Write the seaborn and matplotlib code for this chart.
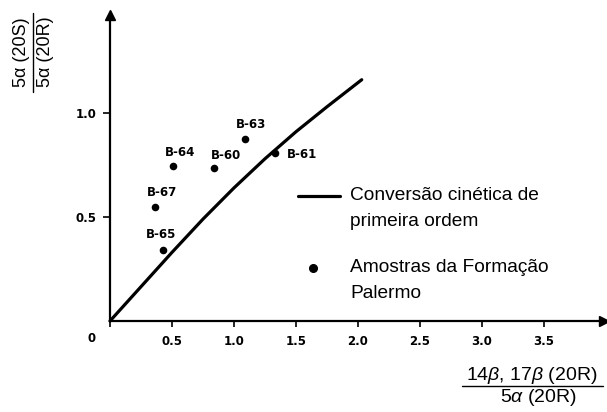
import matplotlib
matplotlib.use("Agg")
import matplotlib.pyplot as plt
from matplotlib.lines import Line2D
import seaborn as sns
import pandas as pd

# ---- data ----
curve_x = [0.0, 0.25, 0.5, 0.75, 1.0, 1.25, 1.5, 1.75, 2.03]
curve_y = [0.0, 0.165, 0.33, 0.49, 0.64, 0.78, 0.91, 1.03, 1.16]

sample_names = ["B-63", "B-61", "B-64", "B-60", "B-67", "B-65"]
sample_x = [1.09, 1.33, 0.51, 0.84, 0.36, 0.43]
sample_y = [0.875, 0.81, 0.745, 0.735, 0.55, 0.34]

x_ticks = [0.5, 1.0, 1.5, 2.0, 2.5, 3.0, 3.5]
x_ticklabels = ["0.5", "1.0", "1.5", "2.0", "2.5", "3.0", "3.5"]
y_ticks = [0.5, 1.0]
y_ticklabels = ["0.5", "1.0"]

legend_line_label = ["Conversão cinética de", "primeira ordem"]
legend_point_label = ["Amostras da Formação", "Palermo"]

# label offsets in pixels (dx, dy) relative to each point (label centre)
label_offsets = {
    "B-63": (6, 15), "B-61": (27, -2), "B-64": (7, 14),
    "B-60": (12, 13), "B-67": (7, 14), "B-65": (-2, 16),
}

sns.set_theme(style="white")
plt.rcParams["font.family"] = ["Liberation Sans", "DejaVu Sans"]
plt.rcParams["mathtext.fontset"] = "custom"
plt.rcParams["mathtext.rm"] = "Liberation Sans"
plt.rcParams["mathtext.it"] = "Liberation Sans:italic"
plt.rcParams["text.color"] = "black"

W, H = 607, 412
fig = plt.figure(figsize=(W / 100, H / 100), dpi=100)
fig.patch.set_facecolor("white")

PX_X, PX_Y = 124.0, 208.0
ax = fig.add_axes([110 / W, 91 / H, 494 / W, 306 / H])
ax.set_xlim(0, 494 / PX_X)
ax.set_ylim(0, 306 / PX_Y)
ax.set_facecolor("white")

curve_df = pd.DataFrame({"x": curve_x, "y": curve_y})
samples_df = pd.DataFrame({"x": sample_x, "y": sample_y, "name": sample_names})

sns.lineplot(data=curve_df, x="x", y="y", sort=False, color="black",
             linewidth=2.3, ax=ax, clip_on=False)
sns.scatterplot(data=samples_df, x="x", y="y", color="black", s=30,
                edgecolor="black", linewidth=0, ax=ax, zorder=5)

for name, xv, yv in zip(sample_names, sample_x, sample_y):
    dx, dy = label_offsets[name]
    ax.annotate(name, (xv, yv), xytext=(dx, dy), textcoords="offset pixels",
                ha="center", va="center", fontsize=8.5, family="DejaVu Sans",
                fontweight="bold", color="black")

# axes styling
for s in ["top", "right"]:
    ax.spines[s].set_visible(False)
for s in ["left", "bottom"]:
    ax.spines[s].set_color("black")
    ax.spines[s].set_linewidth(1.6)
ax.plot(1, 0, ">", color="black", ms=7, transform=ax.get_yaxis_transform(),
        clip_on=False)
ax.plot(0, 1, "^", color="black", ms=7, transform=ax.get_xaxis_transform(),
        clip_on=False)

ax.set_xticks([0.0] + x_ticks)
ax.set_xticklabels([""] + x_ticklabels)
ax.set_yticks(y_ticks)
ax.set_yticklabels(y_ticklabels)
ax.tick_params(axis="x", direction="out", length=4, width=1.2, pad=6,
               labelsize=8.5, colors="black", bottom=True)
ax.tick_params(axis="y", direction="out", length=5, width=1.2, pad=5,
               labelsize=8.5, colors="black", left=True)
for lab in ax.get_xticklabels() + ax.get_yticklabels():
    lab.set_family("DejaVu Sans")
    lab.set_fontweight("bold")
ax.set_xlabel("")
ax.set_ylabel("")
ax.text(-0.145, -0.055, "0", transform=ax.transData, ha="center", va="top",
        fontsize=8.5, family="DejaVu Sans", fontweight="bold")


def fx(x):
    return x / W


def fy(y):
    return 1 - y / H


# y-axis label (fraction, rotated)
fig.text(fx(21), fy(52), "5α (20S)", rotation=90, ha="center", va="center",
         fontsize=13)
fig.text(fx(45), fy(52), "5α (20R)", rotation=90, ha="center", va="center",
         fontsize=13)
fig.add_artist(Line2D([fx(33), fx(33)], [fy(13), fy(92)], color="black",
                      lw=1.0, transform=fig.transFigure))

# x-axis label (fraction)
fig.text(fx(532), fy(375), r"14$\beta$, 17$\beta$ (20R)", ha="center",
         va="center", fontsize=14)
fig.text(fx(538), fy(398), r"5$\alpha$ (20R)", ha="center", va="center",
         fontsize=14)
fig.add_artist(Line2D([fx(462), fx(603)], [fy(386), fy(386)], color="black",
                      lw=1.0, transform=fig.transFigure))

# legend (manual)
fig.add_artist(Line2D([fx(298), fx(340)], [fy(196), fy(196)], color="black",
                      lw=2.3, transform=fig.transFigure))
fig.text(fx(350), fy(196), legend_line_label[0], ha="left", va="center",
         fontsize=13.8)
fig.text(fx(350), fy(221), legend_line_label[1], ha="left", va="center",
         fontsize=13.8)
fig.add_artist(Line2D([fx(313)], [fy(268)], marker="o", ms=5.5, color="black",
                      lw=0, transform=fig.transFigure))
fig.text(fx(350), fy(268), legend_point_label[0], ha="left", va="center",
         fontsize=13.8)
fig.text(fx(350), fy(293), legend_point_label[1], ha="left", va="center",
         fontsize=13.8)

fig.savefig("out.png", dpi=100, facecolor="white")
